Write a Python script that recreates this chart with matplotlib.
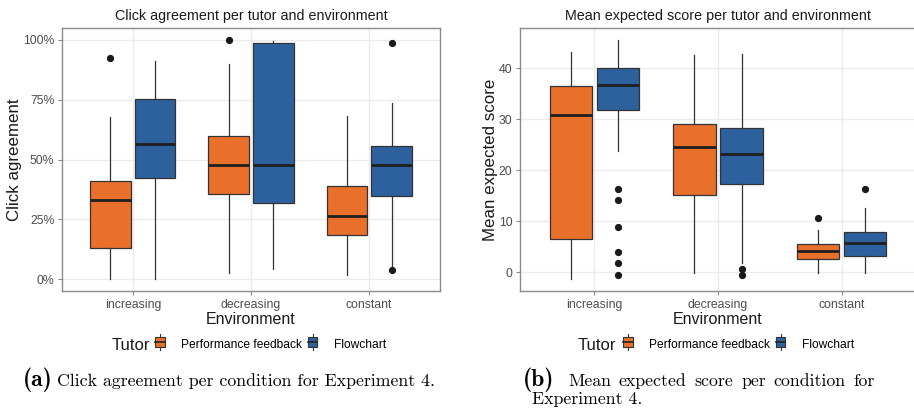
import matplotlib
matplotlib.use("Agg")
import matplotlib.pyplot as plt
from matplotlib.legend_handler import HandlerBase
from matplotlib.patches import Patch, Rectangle
from matplotlib.lines import Line2D
from matplotlib.ticker import FuncFormatter

plt.rcParams["font.family"] = ["Liberation Sans", "DejaVu Sans"]

environments = ["increasing", "decreasing", "constant"]
tutors = ["Performance feedback", "Flowchart"]
tutor_colors = ["#E8702B", "#2D619D"]

# click agreement (%): whislo, q1, med, q3, whishi, fliers  [perf, flowchart] per environment
click_stats = {
    "increasing": [(0.0, 13.0, 33.1, 40.8, 67.7, [92.3]),
                   (0.0, 42.1, 56.5, 75.5, 91.1, [])],
    "decreasing": [(2.5, 35.5, 47.5, 59.9, 89.8, [100.0]),
                   (4.2, 31.9, 47.9, 98.6, 99.7, [])],
    "constant": [(1.7, 18.4, 26.5, 39.1, 68.2, []),
                 (5.0, 34.8, 47.9, 55.7, 73.5, [98.9, 3.6])],
}

# mean expected score
score_stats = {
    "increasing": [(-1.3, 6.5, 30.9, 36.5, 43.1, []),
                   (23.8, 31.8, 36.7, 40.1, 45.5, [16.3, 14.2, 8.9, 4.0, 1.8, -0.5])],
    "decreasing": [(-0.1, 15.2, 24.6, 29.1, 42.6, []),
                   (1.8, 17.4, 23.2, 28.3, 42.7, [0.65, -0.5])],
    "constant": [(-0.1, 2.7, 4.2, 5.5, 8.35, [10.6]),
                 (-0.1, 3.3, 5.7, 8.0, 12.6, [16.4])],
}

W, H = 914, 413
fig = plt.figure(figsize=(W / 100, H / 100), dpi=100)
fig.patch.set_facecolor("white")


def px_axes(x0, y0, x1, y1):
    return fig.add_axes([x0 / W, 1 - y1 / H, (x1 - x0) / W, (y1 - y0) / H])


def draw_panel(ax, stats, title, ylabel, yticks, ylim, fmt=None):
    offsets = [-0.19, 0.19]
    for i, env in enumerate(environments):
        for j in range(2):
            lo, q1, med, q3, hi, fl = stats[env][j]
            ax.bxp([dict(whislo=lo, q1=q1, med=med, q3=q3, whishi=hi, fliers=fl)],
                   positions=[i + 1 + offsets[j]], widths=0.34, patch_artist=True,
                   showcaps=False, manage_ticks=False,
                   boxprops=dict(facecolor=tutor_colors[j], edgecolor="#333333", linewidth=0.9),
                   medianprops=dict(color="#1f1f1f", linewidth=2.0),
                   whiskerprops=dict(color="#333333", linewidth=0.9),
                   flierprops=dict(marker="o", markerfacecolor="#1a1a1a", markeredgecolor="#1a1a1a",
                                   markersize=4.2))
    ax.set_xlim(0.4, 3.6)
    ax.set_ylim(*ylim)
    ax.set_xticks([1, 2, 3])
    ax.set_xticklabels(environments)
    ax.set_yticks(yticks)
    if fmt:
        ax.yaxis.set_major_formatter(FuncFormatter(fmt))
    ax.grid(True, color="#EBEBEB", linewidth=1.0)
    ax.set_axisbelow(True)
    for s in ax.spines.values():
        s.set_color("#8A8A8A")
        s.set_linewidth(1.0)
    ax.tick_params(colors="#8A8A8A", labelcolor="#4D4D4D", labelsize=8.8, length=3, width=0.8, pad=2.5)
    ax.set_title(title, fontsize=10.3, color="#1a1a1a", pad=6)
    ax.set_ylabel(ylabel, fontsize=12.2, color="#1a1a1a", labelpad=0.5)
    ax.set_xlabel("Environment", fontsize=11.5, color="#1a1a1a", labelpad=1)


ax1 = px_axes(62, 28, 440, 291)
draw_panel(ax1, click_stats, "Click agreement per tutor and environment", "Click agreement",
           [0, 25, 50, 75, 100], (-5, 105), fmt=lambda v, p: f"{v:.0f}%")

ax2 = px_axes(520, 28, 916, 291)
draw_panel(ax2, score_stats, "Mean expected score per tutor and environment", "Mean expected score",
           [0, 10, 20, 30, 40], (-3.64, 47.84))


class BoxKey(HandlerBase):
    def create_artists(self, legend, orig, xd, yd, width, height, fontsize, trans):
        cx = xd + width / 2
        rect = Rectangle((xd, yd), width, height, facecolor=orig.get_facecolor(),
                         edgecolor="#333333", linewidth=0.8, transform=trans)
        med = Line2D([xd, xd + width], [yd + height / 2] * 2, color="#222222", lw=1.2, transform=trans)
        w1 = Line2D([cx, cx], [yd + height, yd + height + 2], color="#333333", lw=0.8, transform=trans)
        w2 = Line2D([cx, cx], [yd - 2, yd], color="#333333", lw=0.8, transform=trans)
        return [rect, med, w1, w2]


handles = [Patch(facecolor=c) for c in tutor_colors]
for tutor_x, leg_x in [(112, 155), (578, 623)]:
    fig.text(tutor_x / W, 1 - 345 / H, "Tutor", fontsize=12, color="#1a1a1a", va="center")
    fig.legend(handles, tutors, loc="center left", bbox_to_anchor=(leg_x / W, 1 - 345 / H),
               ncol=2, frameon=False, fontsize=8.65, handler_map={Patch: BoxKey()},
               handlelength=0.8, handleheight=0.95, handletextpad=1.4, columnspacing=0.45,
               borderpad=0, borderaxespad=0)

cap_size = 12.8


def justified(words, x0, x1, y):
    # place words so the line fills x0..x1 like a justified LaTeX caption
    r = fig.canvas.get_renderer()
    arts = [fig.text(0, 1 - y / H, w, fontfamily="cmr10", fontsize=cap_size, va="baseline") for w in words]
    widths = [a.get_window_extent(r).width for a in arts]
    gap = (x1 - x0 - sum(widths)) / (len(words) - 1)
    x = x0
    for a, w in zip(arts, widths):
        a.set_x(x / W)
        x += w + gap


fig.text(23 / W, 1 - 386 / H, "(a)", fontfamily="cmb10", fontsize=17, va="baseline")
fig.text(57 / W, 1 - 386 / H, "Click agreement per condition for Experiment 4.",
         fontfamily="cmr10", fontsize=cap_size, va="baseline")
fig.text(523 / W, 1 - 386 / H, "(b)", fontfamily="cmb10", fontsize=17, va="baseline")
justified("Mean expected score per condition for".split(), 568, 875, 386)
fig.text(532 / W, 1 - 404 / H, "Experiment 4.", fontfamily="cmr10", fontsize=cap_size, va="baseline")

fig.savefig("out.png", dpi=100)
